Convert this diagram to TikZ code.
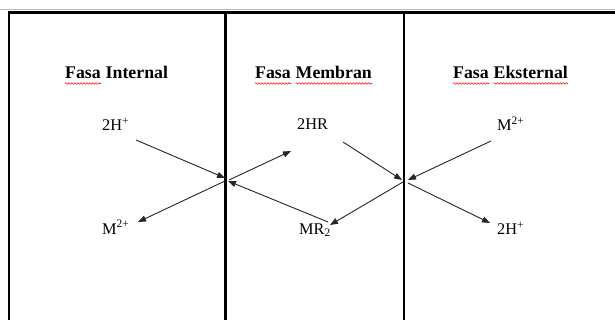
\documentclass[tikz,border=0pt]{standalone}
\usepackage{fontspec}
\setmainfont{Liberation Serif}
\usetikzlibrary{arrows.meta,decorations.pathmorphing}
\begin{document}
\begin{tikzpicture}[x=1pt,y=-1pt,
  wall/.style={line width=2.8pt,black},
  title/.style={font=\bfseries\fontsize{17.8}{21}\selectfont,inner sep=0pt,anchor=base west},
  species/.style={font=\fontsize{16.3}{19}\selectfont,inner sep=0pt,anchor=base west},
  flow/.style={line width=0.9pt,black!85,-{Triangle[length=8pt,width=6pt]}},
  spell/.style={red!90,line width=0.6pt,decorate,
    decoration={snake,segment length=3pt,amplitude=0.8pt}}]
\useasboundingbox (0,0) rectangle (615,320);
\fill[white] (0,0) rectangle (615,320);

% outer frame and the two membrane walls
\draw[gray!55,line width=0.8pt] (0,9.5) -- (615,9.5);
\draw[wall] (9,320) |- (615,12.5);
\draw[wall] (225.5,12.5) -- (225.5,320);
\draw[wall] (404,12.5) -- (404,320);

% phase headings
\node[title] (t1a) at (65,79) {Fasa};
\node[title] (t1b) at ([xshift=4.5pt]t1a.base east) {Internal};
\node[title] (t2a) at (255,79) {Fasa};
\node[title] (t2b) at ([xshift=4.5pt]t2a.base east) {Membran};
\node[title] (t3a) at (453,79) {Fasa};
\node[title] (t3b) at ([xshift=4.5pt]t3a.base east) {Eksternal};
\foreach \w in {t1a,t2a,t2b,t3a,t3b}
  \draw[spell] ([yshift=-4.5pt]\w.base west) -- ([yshift=-4.5pt]\w.base east);

% species
\node[species] (hin)  at (102,131) {2H\textsuperscript{+}};
\node[species] (min)  at (102,234) {M\textsuperscript{2+}};
\node[species] (hr)   at (297,130) {2HR};
\node[species] (mr)   at (299,234) {MR\textsubscript{2}};
\node[species] (mex)  at (497,131) {M\textsuperscript{2+}};
\node[species] (hex)  at (497,235) {2H\textsuperscript{+}};

% arrow end points
\coordinate (hinS) at (136,140);  \coordinate (wallA1) at (225,178);
\coordinate (wallA2) at (229,180); \coordinate (hrT) at (291,151);
\coordinate (mrS) at (328,222);   \coordinate (wallA3) at (228,181);
\coordinate (wallA4) at (225,181); \coordinate (minT) at (138,222);
\coordinate (hrS) at (343,142);   \coordinate (wallB1) at (402,180);
\coordinate (wallB2) at (403,182); \coordinate (mrT) at (330,225);
\coordinate (mexS) at (491,141);  \coordinate (wallB3) at (408,180);
\coordinate (wallB4) at (408,183); \coordinate (hexT) at (490,223);

% exchange at the internal interface
\draw[flow] (hinS) -- (wallA1);
\draw[flow] (wallA2) -- (hrT);
\draw[flow] (mrS) -- (wallA3);
\draw[flow] (wallA4) -- (minT);

% exchange at the external interface
\draw[flow] (hrS) -- (wallB1);
\draw[flow] (wallB2) -- (mrT);
\draw[flow] (mexS) -- (wallB3);
\draw[flow] (wallB4) -- (hexT);
\end{tikzpicture}
\end{document}
